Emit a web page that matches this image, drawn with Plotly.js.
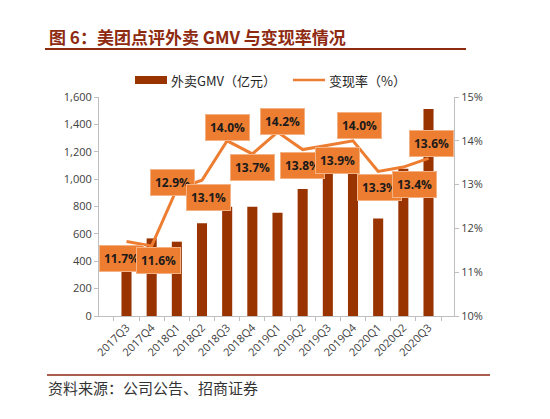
<!DOCTYPE html>
<html>
<head>
<meta charset="utf-8">
<script src="https://cdn.plot.ly/plotly-3.0.1.min.js"></script>
<style>
  html, body { margin: 0; padding: 0; background: #fff; }
  #chart { width: 550px; height: 419px; }
</style>
</head>
<body>
<div id="chart"></div>
<script>
// 美团点评外卖 GMV 与变现率
const quarters = ["2017Q3", "2017Q4", "2018Q1", "2018Q2", "2018Q3", "2018Q4", "2019Q1",
  "2019Q2", "2019Q3", "2019Q4", "2020Q1", "2020Q2", "2020Q3"];
const gmv = [518, 567, 543, 677, 798, 798, 755, 927, 1060, 1100, 713, 1075, 1513]; // 亿元
const takeRate = [11.7, 11.6, 12.9, 13.1, 14.0, 13.7, 14.2, 13.8, 13.9, 14.0, 13.3, 13.4, 13.6]; // %
const leftTicks = [0, 200, 400, 600, 800, 1000, 1200, 1400, 1600];
const rightTicks = [10, 11, 12, 13, 14, 15];

// where each data label box sits relative to its point (px)
const labelShift = [
  [-5, -17], [7, -15], [-4, 6], [6, -17], [0, 13], [0, -14], [5, 11],
  [0, -16], [10, -15], [6, 15], [1, -16], [11, -17], [3, 15]
];

const W = 550, H = 419;
const M = { l: 99, r: 96, t: 97, b: 103 };
const pw = W - M.l - M.r, ph = H - M.t - M.b;
// pixel -> paper
const fx = (x) => (x - M.l) / pw;
const fy = (y) => (H - M.b - y) / ph;

const barColor = "#993300";
const lineColor = "#ED7D31";
const darkRed = "#8E2A10";
const cjk = "'Noto Sans CJK SC', 'Microsoft YaHei', sans-serif";

var bars = {
  type: "bar",
  x: quarters,
  y: gmv,
  name: "外卖GMV（亿元）",
  marker: { color: barColor },
  hoverinfo: "x+y"
};

var line = {
  type: "scatter",
  mode: "lines",
  x: quarters,
  y: takeRate,
  yaxis: "y2",
  name: "变现率（%）",
  line: { color: lineColor, width: 3 },
  hoverinfo: "x+y"
};

var annotations = [];
for (let i = 0; i < quarters.length; i++) {
  annotations.push({
    xref: "x", yref: "y2",
    x: quarters[i], y: takeRate[i],
    text: "<b>" + takeRate[i].toFixed(1) + "%</b>",
    showarrow: false,
    xshift: labelShift[i][0],
    yshift: labelShift[i][1],
    bgcolor: lineColor,
    bordercolor: "#F4B183",
    borderwidth: 1,
    borderpad: 4,
    font: { family: "'Open Sans', sans-serif", size: 12, color: "#1a1a1a" }
  });
}

// title, legend text, source
annotations.push(
  {
    xref: "paper", yref: "paper", x: fx(47), y: fy(36),
    xanchor: "left", yanchor: "middle", showarrow: false,
    text: "<b>图 6：美团点评外卖 GMV 与变现率情况</b>",
    font: { family: cjk, size: 17, color: darkRed }
  },
  {
    xref: "paper", yref: "paper", x: fx(169), y: fy(80),
    xanchor: "left", yanchor: "middle", showarrow: false,
    text: "外卖GMV（亿元）",
    font: { family: cjk, size: 13, color: "#262626" }
  },
  {
    xref: "paper", yref: "paper", x: fx(327), y: fy(80),
    xanchor: "left", yanchor: "middle", showarrow: false,
    text: "变现率（%）",
    font: { family: cjk, size: 13, color: "#262626" }
  },
  {
    xref: "paper", yref: "paper", x: fx(46), y: fy(387),
    xanchor: "left", yanchor: "middle", showarrow: false,
    text: "资料来源：公司公告、招商证券",
    font: { family: cjk, size: 15, color: "#333" }
  }
);

var shapes = [
  // title rule
  { type: "line", xref: "paper", yref: "paper", x0: fx(45), x1: fx(466), y0: fy(49), y1: fy(49),
    line: { color: darkRed, width: 2 } },
  // legend swatches
  { type: "rect", xref: "paper", yref: "paper", x0: fx(135), x1: fx(167), y0: fy(76), y1: fy(84),
    fillcolor: barColor, line: { width: 0 } },
  { type: "line", xref: "paper", yref: "paper", x0: fx(293), x1: fx(325), y0: fy(80), y1: fy(80),
    line: { color: lineColor, width: 2.5 } },
  // source rule
  { type: "line", xref: "paper", yref: "paper", x0: fx(47), x1: fx(490), y0: fy(375), y1: fy(375),
    line: { color: darkRed, width: 1.5 } }
];

var tickFont = { family: "'Open Sans', sans-serif", size: 11, color: "#404040" };

var layout = {
  width: W, height: H,
  margin: M,
  paper_bgcolor: "#fff",
  plot_bgcolor: "#fff",
  showlegend: false,
  bargap: 0.6,
  xaxis: {
    type: "category",
    tickangle: -45,
    tickfont: tickFont,
    showline: true, linecolor: "#BFBFBF", linewidth: 1,
    ticks: "outside", ticklen: 4, tickcolor: "#BFBFBF",
    tickson: "boundaries",
    showgrid: false, zeroline: false
  },
  yaxis: {
    range: [0, 1600],
    tickvals: leftTicks,
    tickformat: ",d",
    tickfont: tickFont,
    showline: true, linecolor: "#BFBFBF", linewidth: 1,
    ticks: "outside", ticklen: 4, tickcolor: "#BFBFBF",
    showgrid: false, zeroline: false
  },
  yaxis2: {
    overlaying: "y",
    side: "right",
    range: [10, 15],
    tickvals: rightTicks,
    ticktext: rightTicks.map((v) => v + "%"),
    tickfont: tickFont,
    showline: true, linecolor: "#BFBFBF", linewidth: 1,
    ticks: "outside", ticklen: 4, tickcolor: "#BFBFBF",
    showgrid: false, zeroline: false
  },
  annotations: annotations,
  shapes: shapes
};

Plotly.newPlot("chart", [bars, line], layout, { displayModeBar: false, staticPlot: true });
</script>
</body>
</html>
